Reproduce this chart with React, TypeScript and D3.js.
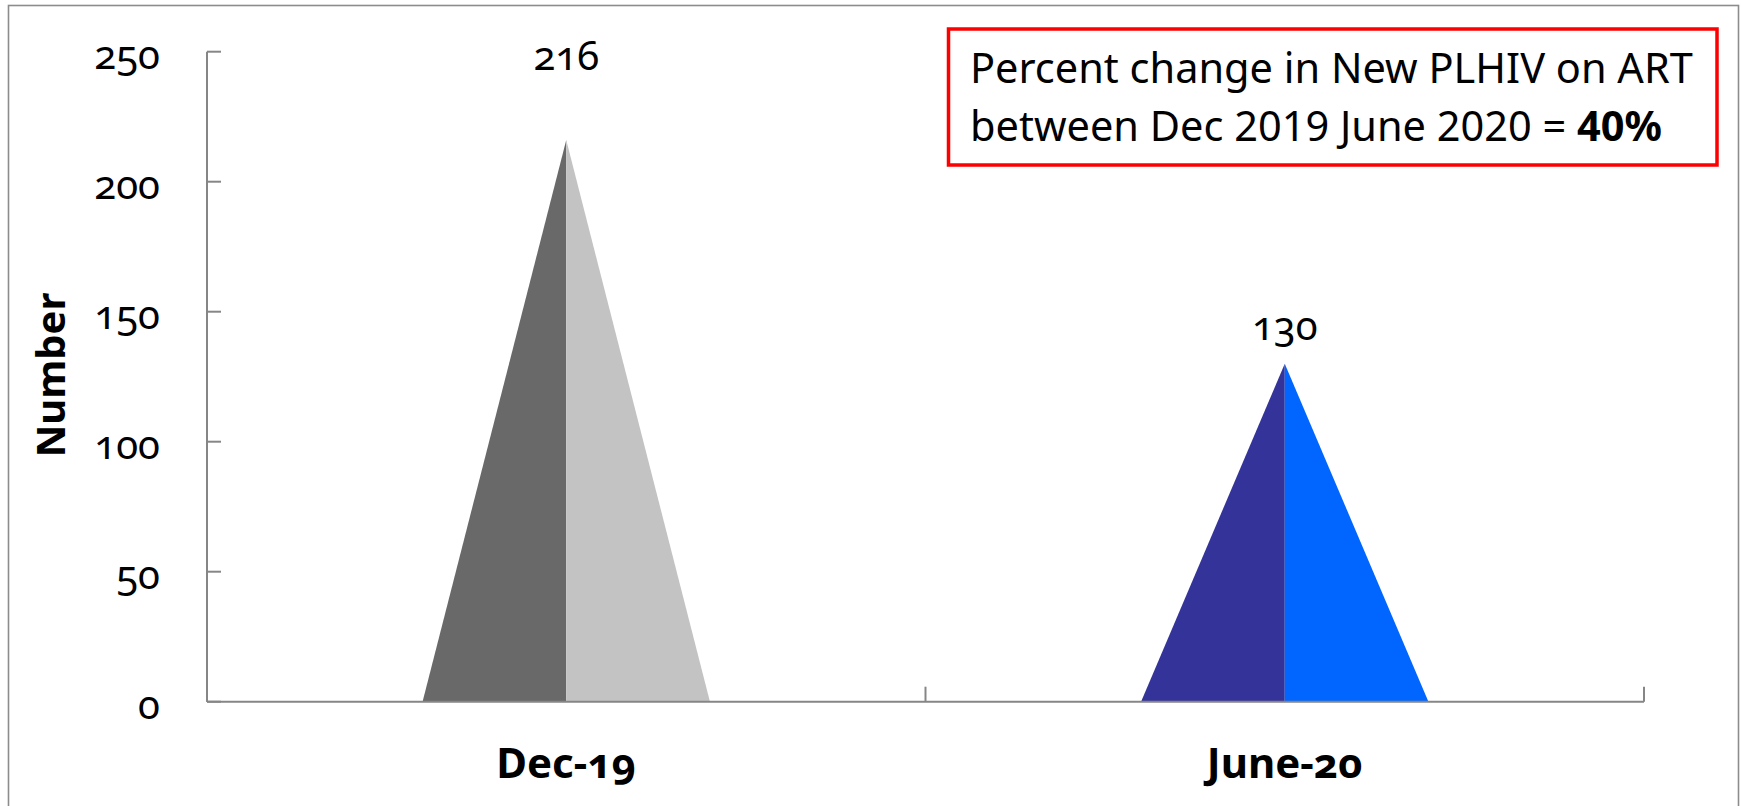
import * as d3 from 'd3';

// chart data
const categories = ['Dec-19', 'June-20'];
const values = [216, 130];
const leftColors = ['#696969', '#333399'];
const rightColors = ['#c3c3c3', '#0066ff'];
const yTicks = [0, 50, 100, 150, 200, 250];
// pixels between the apex and the data label baseline
const labelLift = [70, 24];

const boxLine1 = 'Percent change in New PLHIV on ART';
const boxLine2 = 'between Dec 2019 June 2020 = ';
const boxBold = '40%';

const W = 1741;
const H = 806;
const font = '"Noto Sans", "Open Sans", sans-serif';

export default function App() {
  const x = d3.scaleBand<string>().domain(categories).range([207, 1644]).padding(0);
  const y = d3.scaleLinear().domain([0, 250]).range([701.7, 51.7]);
  const half = x.bandwidth() * 0.2;
  const axisColor = '#868686';
  const bandEdges = [x.range()[0], ...categories.map(c => (x(c) as number) + x.bandwidth())];

  return (
    <svg
      width={W}
      height={H}
      style={{ position: 'absolute', left: 0, top: 0, display: 'block', background: '#fff' }}
      fontFamily={font}
    >
      {/* outer frame */}
      <rect x={8.5} y={5.5} width={1730} height={900} fill="none" stroke="#8c8c8c" strokeWidth={1.6} />

      {/* pyramids */}
      {categories.map((c, i) => {
        const cx = (x(c) as number) + x.bandwidth() / 2;
        const top = y(values[i]);
        const base = y(0);
        return (
          <g key={c}>
            <path d={`M${cx - half},${base}L${cx},${top}L${cx},${base}Z`} fill={leftColors[i]} />
            <path d={`M${cx},${base}L${cx},${top}L${cx + half},${base}Z`} fill={rightColors[i]} />
            <text
              x={cx}
              y={top - labelLift[i]}
              textAnchor="middle"
              fontSize={40}
              fill="#000"
              style={{ fontVariantNumeric: 'oldstyle-nums' }}
            >
              {values[i]}
            </text>
            <text x={cx} y={778} textAnchor="middle" fontSize={42} fontWeight="bold" fill="#000"
              style={{ fontVariantNumeric: 'oldstyle-nums' }}>
              {c}
            </text>
          </g>
        );
      })}

      {/* y axis */}
      <line x1={207} x2={207} y1={y(250)} y2={y(0)} stroke={axisColor} strokeWidth={2} />
      {yTicks.map(t => (
        <g key={t}>
          <line x1={207} x2={221} y1={y(t)} y2={y(t)} stroke={axisColor} strokeWidth={2} />
          <text
            x={160}
            y={y(t) + 2}
            textAnchor="end"
            dominantBaseline="central"
            fontSize={40}
            fill="#000"
            style={{ fontVariantNumeric: 'oldstyle-nums' }}
          >
            {t}
          </text>
        </g>
      ))}

      {/* x axis */}
      <line x1={207} x2={1644} y1={y(0)} y2={y(0)} stroke={axisColor} strokeWidth={2} />
      {bandEdges.map((e, i) => (
        <line key={i} x1={e} x2={e} y1={y(0)} y2={y(0) - 15} stroke={axisColor} strokeWidth={2} />
      ))}

      {/* y axis title */}
      <text
        transform={`translate(65,375) rotate(-90)`}
        textAnchor="middle"
        fontSize={40}
        fontWeight="bold"
        fill="#000"
      >
        Number
      </text>

      {/* annotation box */}
      <rect x={948.5} y={29} width={768.5} height={136} fill="#fff" stroke="#ff0000" strokeWidth={3.5} />
      <text x={970} y={83} fontSize={41.5} fill="#000">{boxLine1}</text>
      <text x={970} y={141} fontSize={41.5} fill="#000">
        {boxLine2}
        <tspan fontWeight="bold">{boxBold}</tspan>
      </text>
    </svg>
  );
}
